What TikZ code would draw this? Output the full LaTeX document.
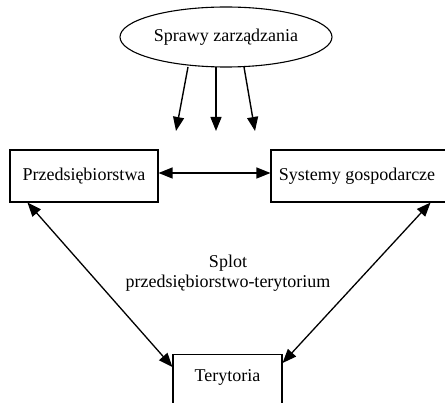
\documentclass[tikz,border=0pt]{standalone}
\usepackage{fontspec}
\setmainfont{Liberation Serif}
\usetikzlibrary{arrows.meta,shapes.geometric}
\begin{document}
\begin{tikzpicture}[x=1pt,y=-1pt,
  lbl/.style={font=\fontsize{18}{20}\selectfont},
  box/.style={draw, line width=1.1pt, minimum height=52pt, inner sep=0pt, lbl},
  arr/.style={line width=1.4pt, -{Triangle[length=14pt,width=11pt]}},
  darr/.style={line width=1.3pt, {Triangle[length=14pt,width=11pt]}-{Triangle[length=14pt,width=11pt]}}]
\clip (0,0) rectangle (445,403);
\node[ellipse, draw, line width=1.1pt, minimum width=212pt, minimum height=60pt, inner sep=0pt, lbl] (spr) at (226,37) {Sprawy zarządzania};
\node[box, minimum width=148pt] (prz) at (84,176) {Przedsiębiorstwa};
\node[box, minimum width=176pt] (sys) at (359,176) {\hspace*{-4pt}Systemy gospodarcze};
\node[draw, line width=1.1pt, lbl, anchor=north, minimum width=109pt, inner sep=0pt, text height=27pt, text depth=60pt] (ter) at (227.5,354) {Terytoria};
\node[lbl, align=center] (splot) at (228,273) {Splot\\przedsiębiorstwo-terytorium};
\coordinate (s1) at (188,67);
\coordinate (s2) at (216,67);
\coordinate (s3) at (244,67);
\coordinate (e1) at (176,131);
\coordinate (e2) at (216,131);
\coordinate (e3) at (255,131);
\draw[arr] (s1) -- (e1);
\draw[arr] (s2) -- (e2);
\draw[arr] (s3) -- (e3);
\draw[darr] ([yshift=3pt]prz.east) -- ([yshift=3pt]sys.west);
\draw[darr] ([xshift=18pt]prz.south west) -- ([yshift=-13pt]ter.north west);
\draw[darr] ([xshift=-17pt]sys.south east) -- ([yshift=-9pt]ter.north east);
\end{tikzpicture}
\end{document}
